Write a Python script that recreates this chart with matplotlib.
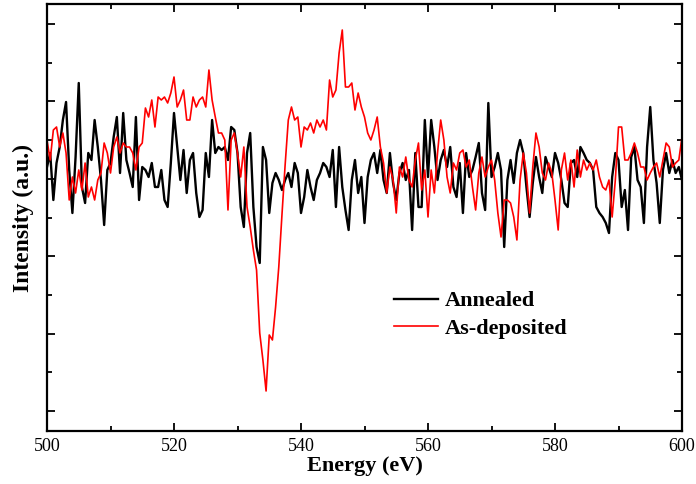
import numpy as np
import matplotlib
matplotlib.use("Agg")
import matplotlib.pyplot as plt
from matplotlib.ticker import MultipleLocator

# Energy grid (eV), 0.5 eV sampling from 500 to 600
energy_start = 500.0
energy_step = 0.5

annealed = [
    244, 258, 211, 248, 264, 291, 309, 241, 198, 254,
    328, 224, 208, 258, 251, 291, 264, 231, 186, 241,
    248, 274, 294, 238, 298, 251, 238, 224, 294, 211,
    244, 241, 234, 248, 224, 224, 241, 211, 204, 248,
    298, 264, 231, 261, 218, 251, 258, 218, 194, 201,
    258, 234, 291, 258, 264, 261, 264, 251, 284, 281,
    258, 204, 184, 258, 278, 204, 164, 148, 264, 251,
    198, 228, 238, 231, 221, 231, 238, 224, 248, 238,
    198, 214, 241, 224, 211, 231, 238, 248, 244, 234,
    261, 204, 264, 224, 201, 181, 231, 251, 218, 234,
    188, 234, 251, 258, 238, 261, 231, 218, 258, 228,
    211, 238, 248, 231, 241, 181, 258, 204, 204, 291,
    234, 291, 264, 231, 251, 261, 244, 264, 224, 214,
    248, 198, 258, 234, 241, 254, 268, 218, 201, 308,
    234, 244, 258, 241, 164, 231, 251, 228, 258, 271,
    258, 224, 194, 228, 254, 234, 218, 254, 244, 234,
    258, 248, 231, 208, 204, 248, 251, 234, 264, 258,
    251, 248, 241, 204, 198, 194, 188, 178, 234, 258,
    251, 204, 221, 181, 254, 264, 231, 224, 188, 264,
    304, 251, 228, 188, 241, 258, 238, 251, 238, 244,
    231,
]

as_deposited = [
    271, 251, 281, 284, 264, 278, 258, 211, 234, 218,
    241, 221, 248, 214, 224, 211, 231, 238, 268, 258,
    238, 264, 274, 258, 268, 264, 264, 258, 241, 264,
    268, 303, 294, 311, 284, 314, 311, 314, 308, 318,
    334, 304, 311, 321, 291, 291, 314, 304, 311, 314,
    304, 341, 311, 294, 278, 278, 271, 201, 271, 278,
    258, 234, 264, 204, 184, 161, 141, 78, 51, 20,
    76, 71, 104, 144, 196, 246, 291, 304, 291, 294,
    264, 284, 281, 288, 278, 291, 284, 291, 281, 331,
    314, 321, 358, 381, 324, 324, 328, 301, 318, 304,
    294, 278, 271, 281, 294, 264, 248, 218, 244, 231,
    198, 244, 234, 254, 231, 224, 251, 268, 221, 241,
    194, 241, 218, 258, 291, 271, 234, 218, 248, 241,
    258, 261, 244, 251, 224, 201, 238, 254, 234, 244,
    251, 231, 198, 174, 211, 211, 208, 194, 171, 231,
    258, 238, 198, 244, 278, 264, 238, 231, 248, 238,
    211, 181, 241, 258, 231, 251, 224, 261, 234, 251,
    241, 248, 241, 251, 234, 224, 221, 231, 194, 231,
    284, 284, 251, 251, 258, 268, 258, 244, 244, 231,
    238, 244, 248, 234, 251, 268, 264, 244, 248, 251,
    274,
]

series_labels = ["Annealed", "As-deposited"]
series_colors = ["black", "red"]
x_ticks = [500, 520, 540, 560, 580, 600]

energy = energy_start + energy_step * np.arange(len(annealed))

plt.rcParams['font.family'] = ['Liberation Serif', 'DejaVu Serif']

fig = plt.figure(figsize=(6.96, 4.84), dpi=100)
ax = fig.add_axes([47/696, 1 - 431/484, (682-47)/696, (431-4)/484])

ax.plot(energy, annealed, color=series_colors[0], lw=1.7, label=series_labels[0])
ax.plot(energy, as_deposited, color=series_colors[1], lw=1.2, label=series_labels[1])

ax.set_xlim(500, 600)
ax.set_ylim(-20, 407)
ax.set_xticks(x_ticks)
ax.xaxis.set_minor_locator(MultipleLocator(10))
ax.yaxis.set_major_locator(MultipleLocator(77.4))
ax.yaxis.set_minor_locator(MultipleLocator(38.7))
ax.tick_params(which='both', direction='in', top=True, right=True, width=1.3)
ax.tick_params(which='major', length=6, labelsize=13)
ax.tick_params(which='minor', length=3.5)
ax.tick_params(axis='x', pad=5)
ax.tick_params(axis='y', labelleft=False)
for s in ax.spines.values():
    s.set_linewidth(1.6)

ax.set_xlabel("Energy (eV)", fontsize=16, fontweight='bold', labelpad=1)
ax.set_ylabel("Intensity (a.u.)", fontsize=17, fontweight='bold', labelpad=6)

leg = ax.legend(loc='upper left', bbox_to_anchor=(0.515, 0.375), frameon=False,
                prop={'weight': 'bold', 'size': 16}, handlelength=2.0,
                handletextpad=0.3, labelspacing=0.3)

fig.savefig("out.png", dpi=100)
